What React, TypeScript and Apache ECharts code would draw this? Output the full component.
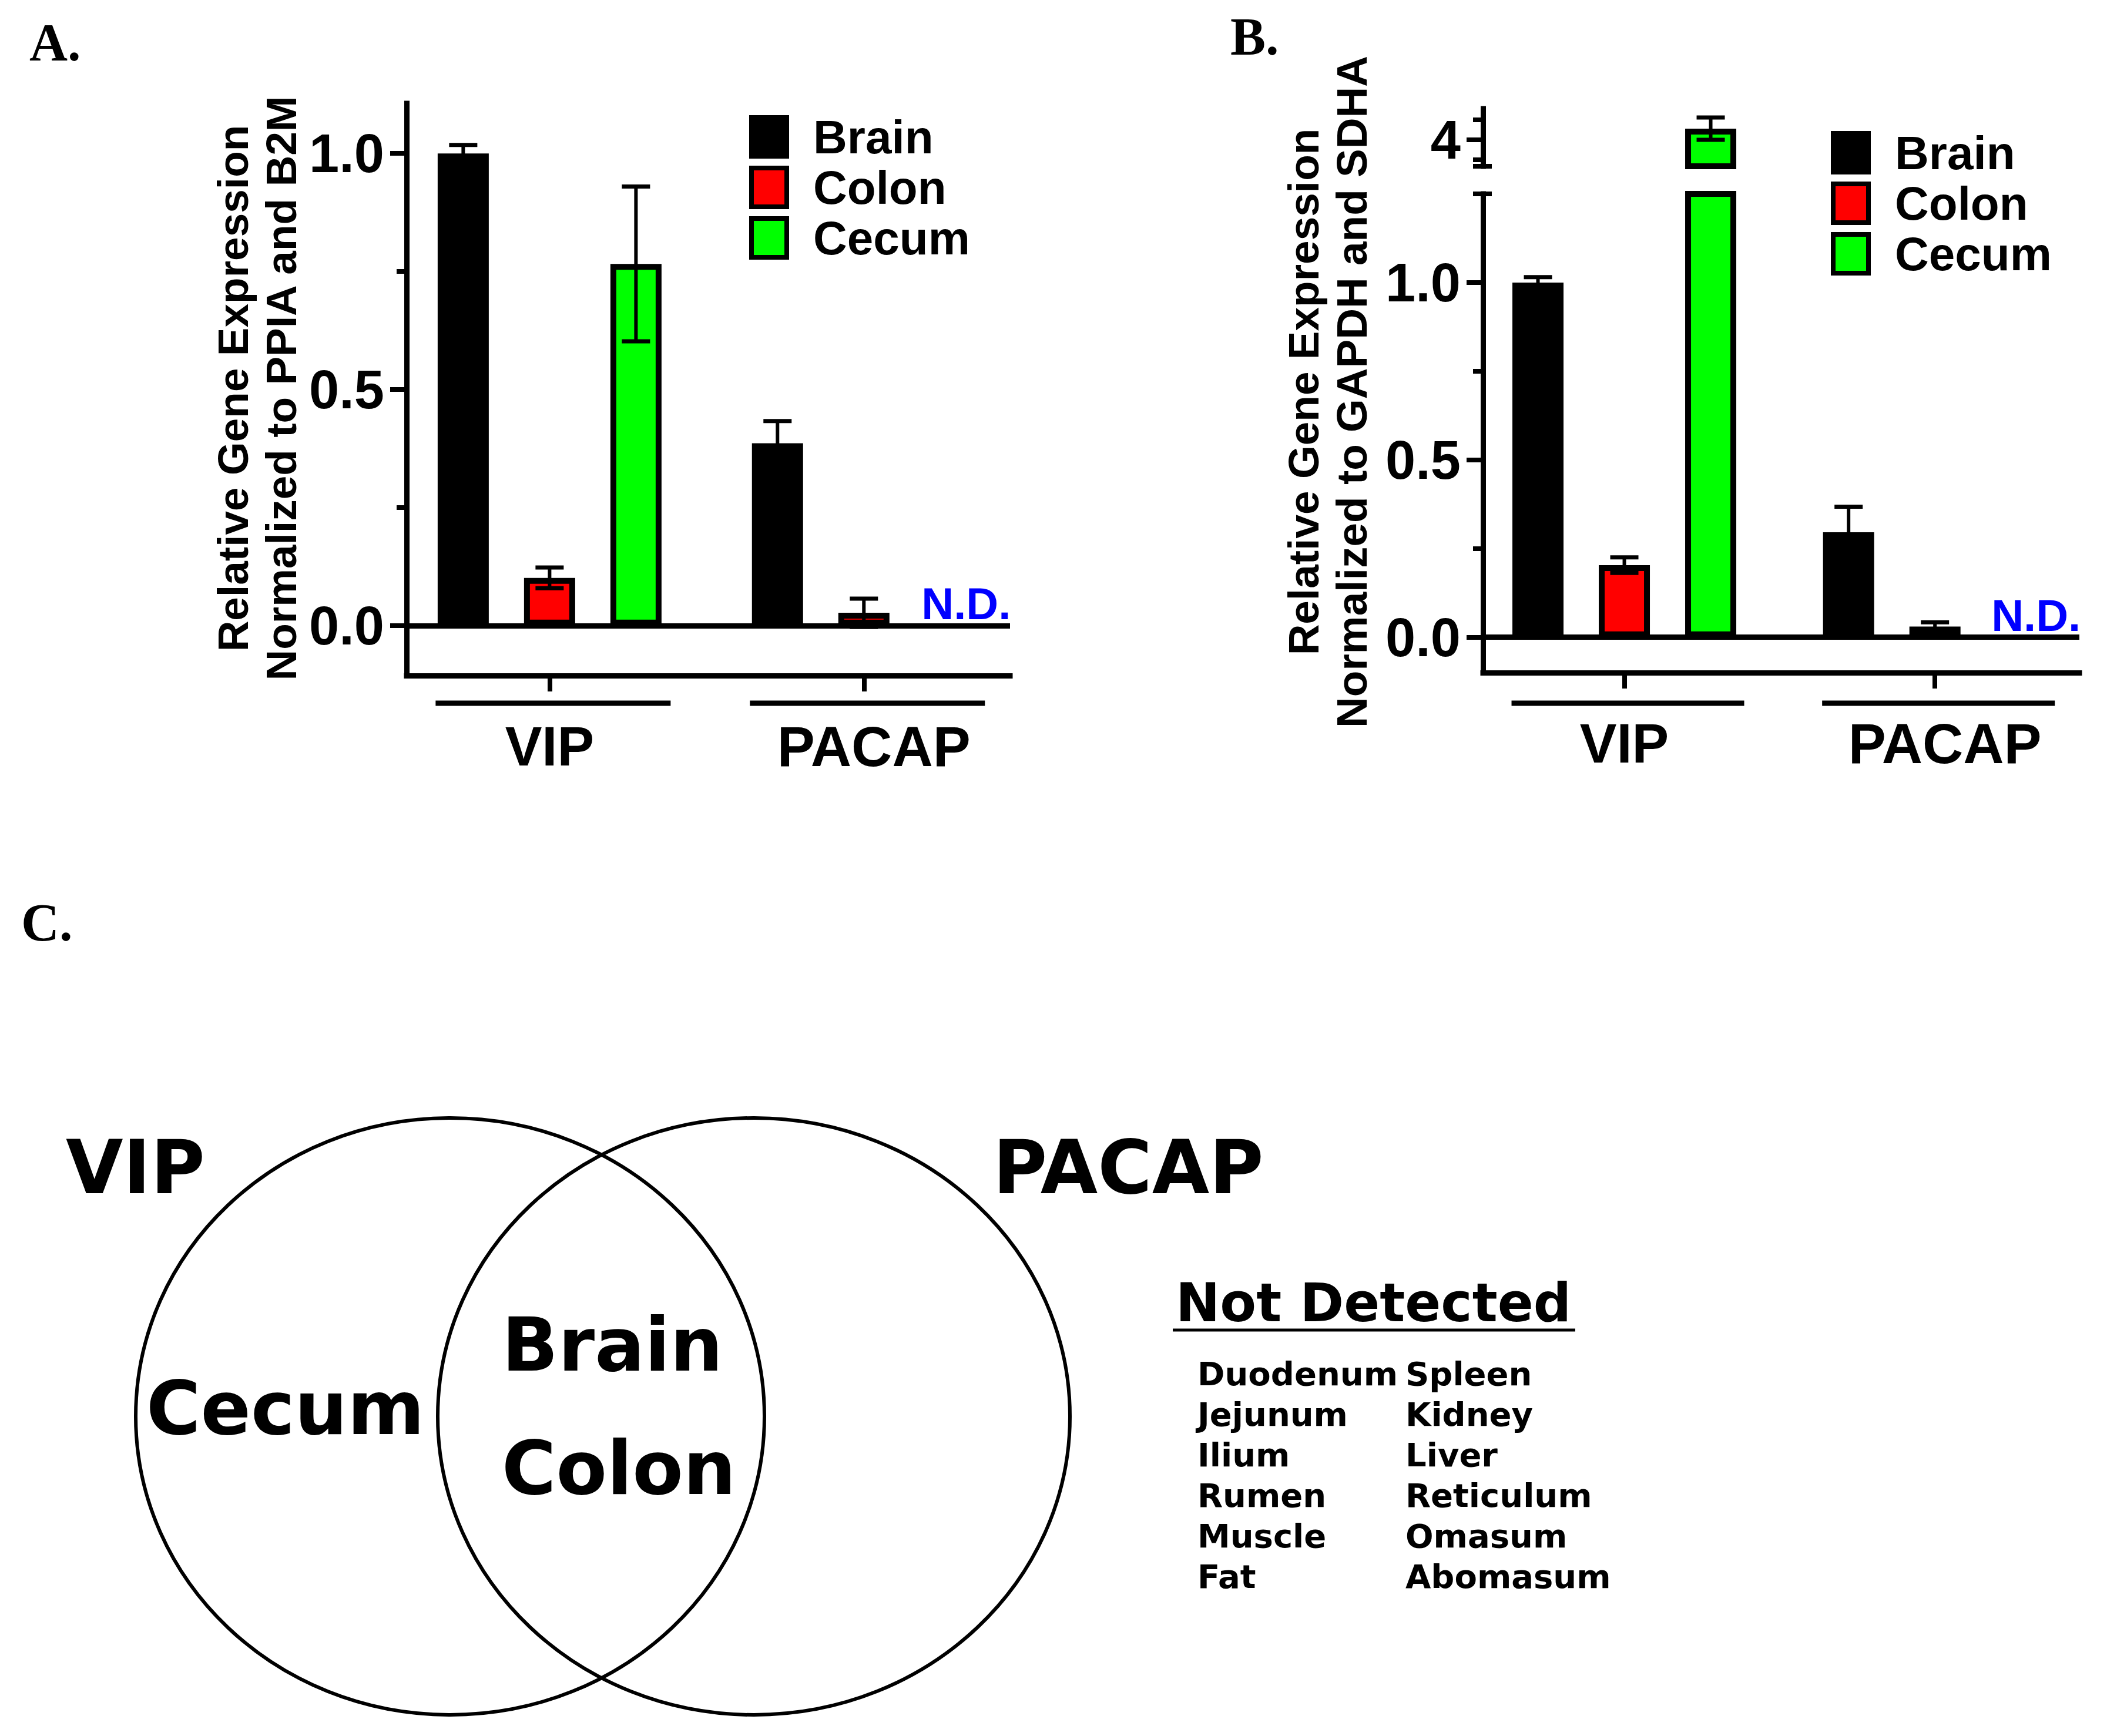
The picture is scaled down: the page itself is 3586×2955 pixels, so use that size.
import React, { useEffect, useRef } from 'react';
import * as echarts from 'echarts';

// ---------------- data ----------------
const categories = ['VIP', 'PACAP'];
const tissues = ['Brain', 'Colon', 'Cecum'];
const tissueColors = ['#000000', '#ff0000', '#00ff00'];

// Panel A (normalized to PPIA and B2M)
const panelABrain = [1.0, 0.386];
const panelABrainErr = [0.018, 0.047];
const panelAColon = [0.101, 0.027];
const panelAColonErr = [0.022, 0.03];
const panelACecum = [0.766, null];
const panelACecumErr = [0.164, null];

// Panel B (normalized to GAPDH and SDHA)
const panelBBrain = [1.0, 0.296];
const panelBBrainErr = [0.015, 0.072];
const panelBColon = [0.203, 0.03];
const panelBColonErr = [0.022, 0.012];
const panelBCecum = [4.28, null];
const panelBCecumErr = [0.28, null];

const panelAMajorTicks = [0, 0.5, 1.0];
const panelAMinorTicks = [0.25, 0.75];
const panelBMajorTicks = [0, 0.5, 1.0];
const panelBMinorTicks = [0.25, 0.75, 1.25];
const panelBUpperMajorTicks = [4];
const panelBUpperMinorTicks = [3.5, 4.5];

const panelATitle = ['Relative Gene Expression', 'Normalized to PPIA and B2M'];
const panelBTitle = ['Relative Gene Expression', 'Normalized to GAPDH and SDHA'];
const notDetectedLabel = 'N.D.';

// Panel C (Venn)
const vennSets = ['VIP', 'PACAP'];
const vennVipOnly = ['Cecum'];
const vennShared = ['Brain', 'Colon'];
const notDetectedTitle = 'Not Detected';
const notDetectedLeft = ['Duodenum', 'Jejunum', 'Ilium', 'Rumen', 'Muscle', 'Fat'];
const notDetectedRight = ['Spleen', 'Kidney', 'Liver', 'Reticulum', 'Omasum', 'Abomasum'];

// ---------------- styling ----------------
const SANS = '"Liberation Sans", Arial, sans-serif';
const HEAVY = '"DejaVu Sans", "Liberation Sans", sans-serif';
const SERIF = '"Liberation Serif", "Times New Roman", serif';
const AXIS_W = 9;
const X_MIN = -0.455;
const X_MAX = 1.465;
const A_MIN = -0.106;
const A_MAX = 1.106;
const B_MIN = -0.1;
const B_MAX = 1.25;
const BU_MIN = 3.338;
const BU_MAX = 4.78;
const BAR_W = 87;
const BAR_PITCH = 147;

function xAxisCfg(gridIndex: number, show: boolean) {
  return {
    type: 'value',
    gridIndex,
    min: X_MIN,
    max: X_MAX,
    show,
    splitLine: { show: false },
    axisLine: { show: true, onZero: false, lineStyle: { color: '#000', width: AXIS_W, cap: 'square' } },
    axisTick: { show: true, customValues: [0, 1], length: 27, lineStyle: { color: '#000', width: 8 } },
    axisLabel: {
      show: true,
      customValues: [0, 1],
      formatter: (v: number) => {
        const i = Math.round(v);
        return i === 1 ? '{s|' + categories[i] + '}' : categories[i] ?? '';
      },
      fontSize: 94,
      fontWeight: 'bold',
      fontFamily: SANS,
      color: '#000',
      margin: 73,
      lineHeight: 94,
      rich: {
        s: {
          padding: [0, 0, 0, 34],
          fontSize: 96,
          fontWeight: 'bold',
          fontFamily: SANS,
          color: '#000',
          lineHeight: 94,
        },
      },
    },
  };
}

function yMain(gridIndex: number, min: number, max: number, ticks: number[], fmt: (v: number) => string) {
  return {
    type: 'value',
    gridIndex,
    position: 'left',
    min,
    max,
    splitLine: { show: false },
    axisLine: { show: true, onZero: false, lineStyle: { color: '#000', width: AXIS_W, cap: 'square' } },
    axisTick: { show: true, customValues: ticks, length: 28, lineStyle: { color: '#000', width: 8 } },
    axisLabel: {
      show: true,
      customValues: ticks,
      formatter: fmt,
      fontSize: 92,
      fontWeight: 'bold',
      fontFamily: SANS,
      color: '#000',
      margin: 38,
    },
  };
}

function yTicks(gridIndex: number, min: number, max: number, ticks: number[], length: number, inside: boolean) {
  return {
    type: 'value',
    gridIndex,
    position: 'left',
    offset: 0,
    min,
    max,
    splitLine: { show: false },
    axisLine: { show: false, onZero: false },
    axisTick: { show: true, inside, customValues: ticks, length, lineStyle: { color: '#000', width: 8 } },
    axisLabel: { show: false },
  };
}

function barSeries(
  name: string,
  slot: number,
  xAxisIndex: number,
  yAxisIndex: number,
  vals: (number | null)[],
  ndOffset: number[] | null,
  zeroLine: boolean
) {
  return {
    type: 'bar',
    name,
    xAxisIndex,
    yAxisIndex,
    barWidth: BAR_W,
    barGap: ((BAR_PITCH - BAR_W) / BAR_W) * 100 + '%',
    clip: true,
    z: 2,
    itemStyle: { color: tissueColors[slot], borderColor: '#000', borderWidth: 10 },
    data: vals.map((v, i) => {
      if (v == null) {
        if (!ndOffset) return [i, '-'];
        return {
          value: [i, 0],
          itemStyle: { borderWidth: 0, color: 'rgba(0,0,0,0)' },
          label: {
            show: true,
            position: 'top',
            distance: 6,
            offset: ndOffset,
            formatter: notDetectedLabel,
            color: '#0000ff',
            fontSize: 76,
            fontWeight: 'bold',
            fontFamily: SANS,
            lineHeight: 62,
          },
        };
      }
      return [i, v];
    }),
    markLine: zeroLine
      ? {
          silent: true,
          symbol: ['none', 'none'],
          label: { show: false },
          lineStyle: { color: '#000', width: AXIS_W, type: 'solid' },
          data: [{ yAxis: 0 }],
        }
      : undefined,
  };
}

function errSeries(
  slot: number,
  xAxisIndex: number,
  yAxisIndex: number,
  means: (number | null)[],
  errs: (number | null)[]
) {
  const offset = (slot - 1) * BAR_PITCH;
  const data: number[][] = [];
  means.forEach((m, i) => {
    if (m != null) data.push([i, m, errs[i] as number]);
  });
  return {
    type: 'custom',
    xAxisIndex,
    yAxisIndex,
    silent: true,
    z: 5,
    data,
    renderItem: (params: any, api: any) => {
      const cat = api.value(0);
      const m = api.value(1);
      const e = api.value(2);
      const cs = params.coordSys;
      const top = api.coord([cat, m + e]);
      const bot = api.coord([cat, m - e]);
      if (bot[1] < cs.y || top[1] > cs.y + cs.height) return null;
      const x = top[0] + offset;
      return {
        type: 'group',
        children: [
          { type: 'line', shape: { x1: x, y1: top[1], x2: x, y2: bot[1] }, style: { stroke: '#000', lineWidth: 6 } },
          { type: 'line', shape: { x1: x - 24, y1: top[1], x2: x + 24, y2: top[1] }, style: { stroke: '#000', lineWidth: 7 } },
          { type: 'line', shape: { x1: x - 24, y1: bot[1], x2: x + 24, y2: bot[1] }, style: { stroke: '#000', lineWidth: 7 } },
        ],
      };
    },
  };
}

function groupLineSeries(xAxisIndex: number, yAxisIndex: number, drop: number, half: number, shift: number) {
  return {
    type: 'custom',
    xAxisIndex,
    yAxisIndex,
    silent: true,
    data: categories.map((c, i) => [i, 0]),
    renderItem: (params: any, api: any) => {
      const p = api.coord([api.value(0), 0]);
      const cs = params.coordSys;
      const y = cs.y + cs.height + drop;
      const cx = p[0] + shift;
      return {
        type: 'line',
        shape: { x1: cx - half, y1: y, x2: cx + half, y2: y },
        style: { stroke: '#000', lineWidth: 9 },
      };
    },
  };
}

function legendCfg(left: number, top: number) {
  return {
    data: tissues,
    left,
    top,
    orient: 'vertical',
    icon: 'rect',
    itemWidth: 60,
    itemHeight: 66,
    itemGap: 6,
    padding: 0,
    selectedMode: false,
    itemStyle: { borderColor: '#000', borderWidth: 8 },
    textStyle: {
      fontSize: 80,
      fontWeight: 'bold',
      fontFamily: SANS,
      color: '#000',
      lineHeight: 72,
      padding: [0, 0, 0, 40],
    },
  };
}

function txt(text: string, x: number, y: number, size: number, family: string, opts: any = {}) {
  const align = opts.align || 'left';
  const valign = opts.valign || 'middle';
  return {
    type: 'text',
    x,
    y,
    rotation: opts.rotation || 0,
    silent: true,
    style: {
      text,
      fill: opts.fill || '#000',
      fontSize: size,
      fontWeight: opts.weight || 'bold',
      fontFamily: family,
      align,
      verticalAlign: valign,
      textAlign: align,
      textVerticalAlign: valign,
      lineHeight: opts.lineHeight,
    },
  };
}

function buildOption() {
  const graphic: any[] = [];
  // panel letters
  graphic.push(txt('A.', 50, 72, 90, SERIF));
  graphic.push(txt('B.', 2094, 62, 90, SERIF));
  graphic.push(txt('C.', 36, 1570, 90, SERIF));
  // axis titles
  graphic.push(
    txt(panelATitle.join('\n'), 437, 661, 73, SANS, { align: 'center', rotation: Math.PI / 2, lineHeight: 82 })
  );
  graphic.push(
    txt(panelBTitle.join('\n'), 2259, 667, 73, SANS, { align: 'center', rotation: Math.PI / 2, lineHeight: 82 })
  );
  // Venn diagram
  graphic.push({
    type: 'ellipse',
    silent: true,
    shape: { cx: 766, cy: 2411, rx: 535, ry: 508 },
    style: { fill: 'none', stroke: '#000', lineWidth: 6 },
  });
  graphic.push({
    type: 'ellipse',
    silent: true,
    shape: { cx: 1283, cy: 2411, rx: 538, ry: 508 },
    style: { fill: 'none', stroke: '#000', lineWidth: 6 },
  });
  graphic.push(txt(vennSets[0], 112, 1987, 126, HEAVY));
  graphic.push(txt(vennSets[1], 1690, 1987, 126, HEAVY));
  graphic.push(txt(vennVipOnly[0], 249, 2397, 126, HEAVY));
  vennShared.forEach((s, i) => graphic.push(txt(s, 854, 2289 + i * 210, 126, HEAVY)));
  // Not detected list
  graphic.push(txt(notDetectedTitle, 2001, 2217, 90, HEAVY));
  graphic.push({
    type: 'line',
    silent: true,
    shape: { x1: 1996, y1: 2264, x2: 2681, y2: 2264 },
    style: { stroke: '#000', lineWidth: 5 },
  });
  notDetectedLeft.forEach((s, i) => graphic.push(txt(s, 2038, 2338 + i * 69, 56, HEAVY)));
  notDetectedRight.forEach((s, i) => graphic.push(txt(s, 2392, 2338 + i * 69, 56, HEAVY)));

  const fmt1 = (v: number) => v.toFixed(1);
  const fmt0 = (v: number) => String(Math.round(v));

  return {
    animation: false,
    backgroundColor: '#ffffff',
    grid: [
      { left: 692, top: 176, width: 1027, height: 974 },
      { left: 2524, top: 330, width: 1015, height: 815 },
      { left: 2524, top: 185, width: 1015, height: 98 },
    ],
    xAxis: [xAxisCfg(0, true), xAxisCfg(1, true), xAxisCfg(2, false)],
    yAxis: [
      yMain(0, A_MIN, A_MAX, panelAMajorTicks, fmt1),
      yTicks(0, A_MIN, A_MAX, panelAMinorTicks, 17, false),
      yMain(1, B_MIN, B_MAX, panelBMajorTicks, fmt1),
      yTicks(1, B_MIN, B_MAX, panelBMinorTicks, 17, false),
      yTicks(1, B_MIN, B_MAX, [B_MAX], 15, true),
      yMain(2, BU_MIN, BU_MAX, panelBUpperMajorTicks, fmt0),
      yTicks(2, BU_MIN, BU_MAX, [BU_MIN, ...panelBUpperMinorTicks], 17, false),
      yTicks(2, BU_MIN, BU_MAX, [BU_MIN], 15, true),
    ],
    legend: [legendCfg(1275, 193), legendCfg(3116, 220)],
    graphic,
    series: [
      // Panel A
      barSeries(tissues[0], 0, 0, 0, panelABrain, null, true),
      barSeries(tissues[1], 1, 0, 0, panelAColon, null, false),
      barSeries(tissues[2], 2, 0, 0, panelACecum, [27, 0], false),
      errSeries(0, 0, 0, panelABrain, panelABrainErr),
      errSeries(1, 0, 0, panelAColon, panelAColonErr),
      errSeries(2, 0, 0, panelACecum, panelACecumErr),
      groupLineSeries(0, 0, 47, 200, 6),
      // Panel B lower
      barSeries(tissues[0], 0, 1, 2, panelBBrain, null, true),
      barSeries(tissues[1], 1, 1, 2, panelBColon, null, false),
      barSeries(tissues[2], 2, 1, 2, panelBCecum, [25, 0], false),
      errSeries(0, 1, 2, panelBBrain, panelBBrainErr),
      errSeries(1, 1, 2, panelBColon, panelBColonErr),
      errSeries(2, 1, 2, panelBCecum, panelBCecumErr),
      groupLineSeries(1, 2, 52, 198, 6),
      // Panel B upper (broken axis segment)
      barSeries(tissues[0], 0, 2, 5, panelBBrain, null, false),
      barSeries(tissues[1], 1, 2, 5, panelBColon, null, false),
      barSeries(tissues[2], 2, 2, 5, panelBCecum, null, false),
      errSeries(0, 2, 5, panelBBrain, panelBBrainErr),
      errSeries(1, 2, 5, panelBColon, panelBColonErr),
      errSeries(2, 2, 5, panelBCecum, panelBCecumErr),
    ],
  };
}

export default function App() {
  const ref = useRef<HTMLDivElement>(null);
  useEffect(() => {
    if (!ref.current) return;
    const chart = echarts.init(ref.current, null, { renderer: 'svg', width: 3586, height: 2955 });
    chart.setOption(buildOption() as any);
    return () => chart.dispose();
  }, []);
  return (
    <div
      ref={ref}
      style={{ position: 'absolute', left: 0, top: 0, width: 3586, height: 2955, background: '#fff' }}
    />
  );
}
